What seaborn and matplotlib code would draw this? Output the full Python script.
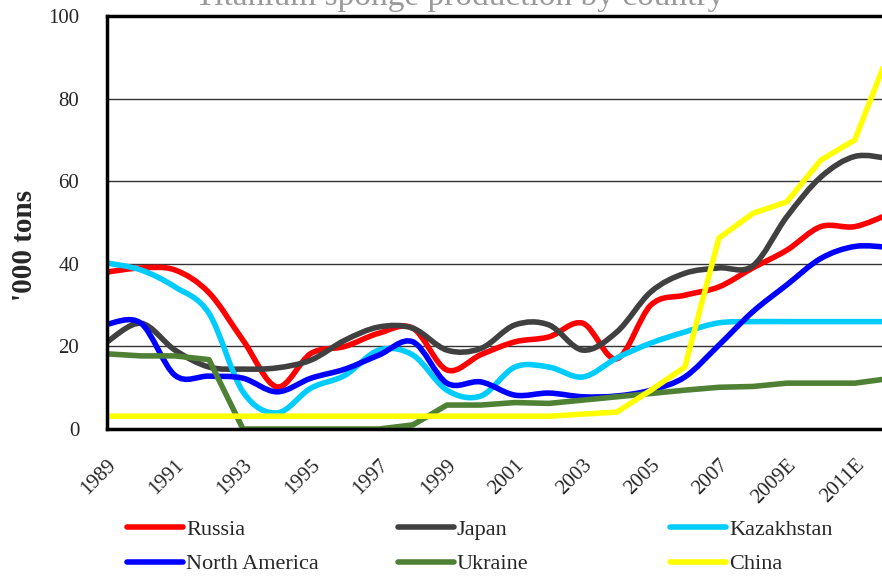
import numpy as np
import pandas as pd
import matplotlib
matplotlib.use('Agg')
import matplotlib.pyplot as plt
from matplotlib.path import Path
from matplotlib.patches import PathPatch
from matplotlib.lines import Line2D
from matplotlib.transforms import ScaledTranslation
import seaborn as sns

# Data ('000 tons)
years = ['1989', '1990', '1991', '1992', '1993', '1994', '1995', '1996', '1997', '1998',
         '1999', '2000', '2001', '2002', '2003', '2004', '2005', '2006', '2007', '2008',
         '2009E', '2010E', '2011E', '2012E']
russia = [38, 39, 38.5, 33, 21.5, 10.2, 18.3, 20, 23.2, 24.4, 14.3, 18, 21.1, 22.3, 25.6,
          17, 30, 32.4, 34.4, 39, 43.3, 49, 49, 52]
japan = [21.1, 25.6, 19.1, 15, 14.5, 14.8, 16.7, 21.5, 24.7, 24.4, 19.1, 19.5, 25.2, 25.2,
         19.1, 23.5, 33.2, 37.7, 39, 39.5, 51.4, 61, 66, 65.5]
kazakhstan = [40.2, 38.5, 34.4, 28, 9, 3.9, 9.9, 13, 19.1, 17.9, 9.4, 8, 15, 15, 12.6,
              17.2, 20.8, 23.5, 25.7, 26, 26, 26, 26, 26]
north_america = [25.4, 25.6, 13, 12.8, 12.3, 9, 12.3, 14.5, 17.9, 21.1, 11.1, 11.4, 8.2,
                 8.7, 7.8, 8, 9.4, 12.6, 20.3, 28.4, 34.9, 41.3, 44.2, 44]
ukraine = [18.2, 17.7, 17.7, 16.8, 0, 0, 0, 0, 0, 1, 5.8, 5.8, 6.4, 6.2, 7, 7.8, 8.6,
           9.4, 10.1, 10.3, 11.1, 11.1, 11.1, 12.2]
china = [3.1, 3.1, 3.1, 3.1, 3.1, 3.1, 3.1, 3.1, 3.1, 3.1, 3.1, 3.1, 3.1, 3.1, 3.6, 4.1,
         9.4, 15, 46.2, 52.2, 55, 65.1, 70, 91]

colors = {'Russia': '#FF0000', 'Japan': '#404040', 'Kazakhstan': '#00CCFF',
          'North America': '#0000FF', 'Ukraine': '#4F8134', 'China': '#FFFF00'}
smoothed = {'Russia': russia, 'Japan': japan, 'Kazakhstan': kazakhstan,
            'North America': north_america}
straight = {'Ukraine': ukraine, 'China': china}

sns.set_theme(style='white')
plt.rcParams['font.family'] = ['Liberation Serif', 'DejaVu Serif']

fig = plt.figure(figsize=(8.82, 5.76), dpi=100)
ax = fig.add_axes([107 / 882, 1 - 429 / 576, 1 - 107 / 882, 413 / 576])


def smooth_path(vals):
    # Excel-style smoothed line: cubic Bezier segments through the data points
    pts = np.column_stack([np.arange(len(vals)), vals]).astype(float)
    n = len(pts)
    verts, codes = [pts[0]], [Path.MOVETO]
    for i in range(n - 1):
        p0, p1 = pts[max(i - 1, 0)], pts[i]
        p2, p3 = pts[i + 1], pts[min(i + 2, n - 1)]
        verts += [p1 + (p2 - p0) / 6, p2 - (p3 - p1) / 6, p2]
        codes += [Path.CURVE4] * 3
    return Path(verts, codes)


for name, vals in smoothed.items():
    ax.add_patch(PathPatch(smooth_path(vals), fill=False, edgecolor=colors[name],
                           lw=4, capstyle='round', joinstyle='round'))

long = pd.DataFrame([(name, i, v) for name, vals in straight.items()
                     for i, v in enumerate(vals)], columns=['country', 'idx', 'value'])
sns.lineplot(data=long, x='idx', y='value', hue='country', palette=colors,
             estimator=None, sort=False, lw=4, legend=False, ax=ax)

ax.set_xlim(0, 22.8)
ax.set_ylim(0, 100)
ax.set_xlabel('')
ax.set_ylabel("'000 tons", fontsize=21, fontweight='bold')
ax.yaxis.set_label_coords(-0.089, 0.445)
ax.set_yticks(range(0, 101, 20))
ax.set_yticklabels([str(v) for v in range(0, 101, 20)], fontsize=15)
ax.set_xticks(range(0, len(years), 2))
ax.set_xticklabels(years[::2], fontsize=15, rotation=45, ha='right',
                   rotation_mode='anchor')
shift = ScaledTranslation(-0.1, 0, fig.dpi_scale_trans)
for lab in ax.get_xticklabels():
    lab.set_transform(lab.get_transform() + shift)
ax.tick_params(axis='y', direction='in', length=5, width=2, pad=20)
ax.tick_params(axis='x', direction='out', length=5, width=2, pad=14)
ax.yaxis.grid(True, color='#333333', lw=1)
ax.set_axisbelow(True)
for side in ['left', 'bottom', 'top']:
    ax.spines[side].set_color('black')
    ax.spines[side].set_linewidth(2.5)
ax.spines['right'].set_visible(False)

fig.text(0.5215, 1 - 5 / 576, 'Titanium sponge production by country', color='#9A9A9A',
         fontsize=24, ha='center', va='baseline')

# legend laid out in three fixed columns like the original
names = list(colors)
for col, x0 in enumerate([127, 398, 670]):
    handles = [Line2D([], [], color=colors[names[col]], lw=4),
               Line2D([], [], color=colors[names[col + 3]], lw=4)]
    fig.legend(handles, [names[col], names[col + 3]], loc='upper left',
               bbox_to_anchor=(x0 / 882, 1 - 519 / 576), frameon=False,
               fontsize=16, handlelength=2.5, handletextpad=0.15,
               labelspacing=0.64, borderpad=0, borderaxespad=0)

fig.savefig('out.png', dpi=100)
